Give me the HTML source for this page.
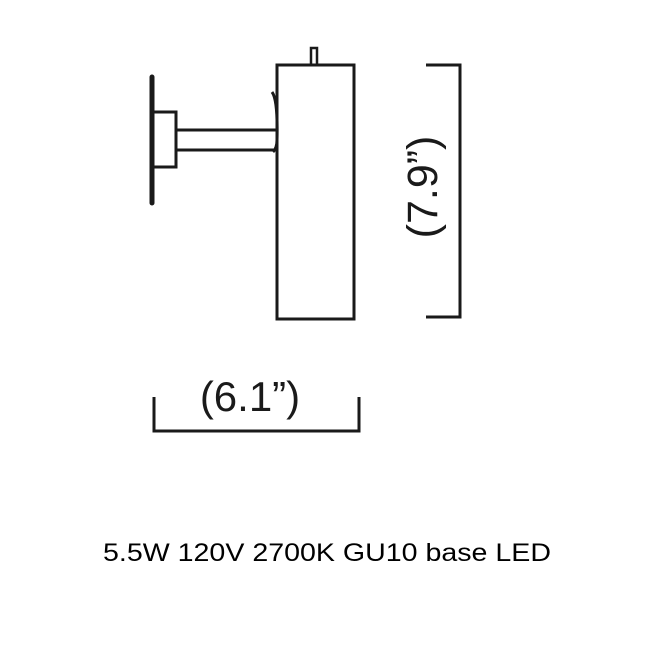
<!DOCTYPE html>
<html><head><style>html,body{margin:0;padding:0;background:#fff;}</style></head>
<body>
<svg width="657" height="657" viewBox="0 0 657 657" xmlns="http://www.w3.org/2000/svg">
<rect width="657" height="657" fill="#fff"/>
<g stroke="#1a1a1a" stroke-width="3" fill="none">
<line x1="152" y1="77" x2="152" y2="203" stroke-width="5" stroke-linecap="round"/>
<rect x="153" y="112" width="23" height="55"/>
<line x1="176" y1="130" x2="277" y2="130"/>
<line x1="176" y1="150" x2="277" y2="150"/>
<path d="M272 92 Q278 100 277 140 Q277 148 273 152"/>
<rect x="277" y="65" width="77" height="254"/>
<rect x="311" y="48" width="6" height="17" stroke-width="2.5"/>
<polyline points="154,397 154,431 359,431 359,397"/>
<polyline points="426,65 460,65 460,317 426,317"/>
</g>
<text x="250" y="411" font-family="Liberation Sans, sans-serif" font-size="42" text-anchor="middle" fill="#1a1a1a">(6.1”)</text>
<text transform="translate(437,187) rotate(-90)" x="0" y="0" font-family="Liberation Sans, sans-serif" font-size="43" text-anchor="middle" fill="#1a1a1a">(7.9”)</text>
<text x="327" y="561" font-family="Liberation Sans, sans-serif" font-size="25" text-anchor="middle" textLength="448" lengthAdjust="spacingAndGlyphs" fill="#000">5.5W 120V 2700K GU10 base LED</text>
</svg>
</body></html>
